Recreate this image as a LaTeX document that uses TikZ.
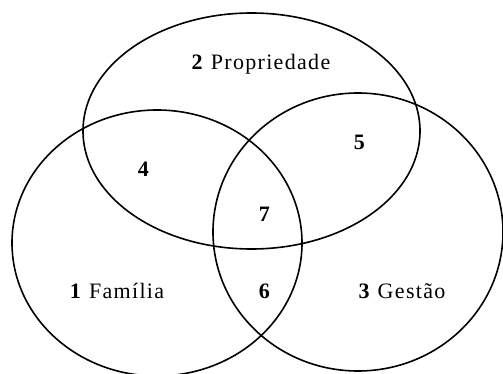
\documentclass[tikz,border=0pt]{standalone}
\usepackage{fontspec}
\setmainfont{Liberation Serif}
\usetikzlibrary{positioning}

\tikzset{
  conjunto/.style={draw=black,line width=1.6pt},
  rotulo/.style={font=\fontsize{22}{26}\selectfont\addfontfeature{LetterSpace=6},inner sep=0pt}
}

\begin{document}
\begin{tikzpicture}[x=1pt,y=-1pt]
  \useasboundingbox (0,0) rectangle (503,374);
  \clip (0,0) rectangle (503,374);

  % centros dos conjuntos
  \coordinate (propriedade) at (251.5,131);
  \coordinate (familia) at (157,243);
  \coordinate (gestao) at (358,232);

  \draw[conjunto] (propriedade) ellipse [x radius=168.5, y radius=118];
  \draw[conjunto] (familia) ellipse [x radius=145, y radius=133];
  \draw[conjunto] (gestao) ellipse [x radius=145, y radius=139];

  \node[rotulo] (t2) at (261,64) {\textbf{2} Propriedade};
  \node[rotulo] (t1) at (117,291) {\textbf{1} Família};
  \node[rotulo] (t3) at (402,291) {\textbf{3} Gestão};
  \node[rotulo] (t4) at (144,169) {\textbf{4}};
  \node[rotulo] (t5) at (360,142) {\textbf{5}};
  \node[rotulo] (t6) at (265,291) {\textbf{6}};
  \node[rotulo] (t7) at (265,214) {\textbf{7}};
\end{tikzpicture}
\end{document}
